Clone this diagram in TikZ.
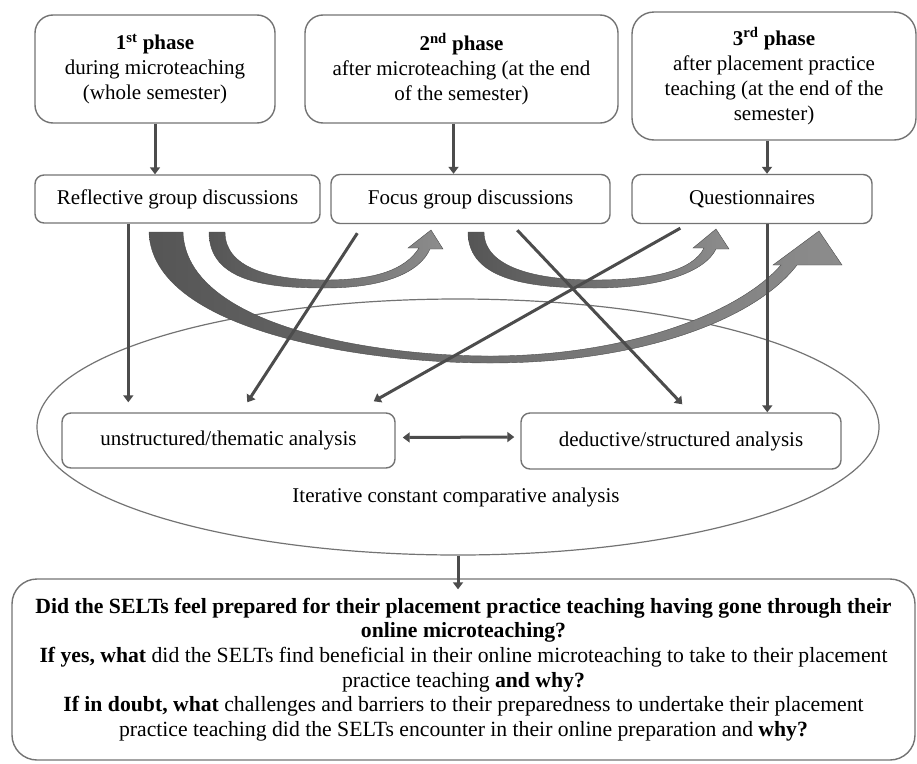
\documentclass[tikz,border=0pt]{standalone}
\usepackage{fontspec}
\setmainfont{Liberation Serif}
\usetikzlibrary{arrows.meta,shapes.geometric,calc}
\begin{document}
\begin{tikzpicture}[x=1pt, y=-1pt,
  every node/.style={font=\fontsize{21}{25}\selectfont},
  box/.style={draw=gray!90!black, line width=1.4pt, rounded corners=18pt, align=center, inner sep=0pt},
  arr/.style={draw=gray!60!black, line width=3pt, -{Triangle[width=10pt,length=7pt]}},
  darr/.style={draw=gray!60!black, line width=3pt, {Triangle[width=10pt,length=7pt]}-{Triangle[width=10pt,length=7pt]}},
  blockarc/.style={draw=gray!60!black, line width=0.4pt, left color=gray!67!black, right color=gray!90}]
  \useasboundingbox (0,0) rectangle (917,763);
  % phases
  \node[box, minimum width=240pt, minimum height=108pt] (p1) at (155,69) {\textbf{1\textsuperscript{st} phase}\\during microteaching\\(whole semester)};
  \node[box, minimum width=313pt, minimum height=108pt] (p2) at (461.5,69) {\textbf{2\textsuperscript{nd} phase}\\after microteaching (at the end\\of the semester)};
  \node[box, minimum width=284pt, minimum height=128pt, rounded corners=22pt] (p3) at (774,76) {\textbf{3\textsuperscript{rd} phase}\\after placement practice\\teaching (at the end of the\\semester)};
  % data sources
  \node[box, rounded corners=9pt, minimum width=285pt, minimum height=48pt] (rg) at (177.5,199) {Reflective group discussions};
  \node[box, rounded corners=9pt, minimum width=279pt, minimum height=49pt] (fg) at (470.5,199) {Focus group discussions};
  \node[box, rounded corners=9pt, minimum width=240pt, minimum height=49pt] (qu) at (752,199) {Questionnaires};
  % analysis
  \node[ellipse, draw=gray!90!black, line width=1.2pt, minimum width=842pt, minimum height=256pt, inner sep=0pt] (it) at (458,427) {};
  \node (itl) at (456,497) {Iterative constant comparative analysis};
  \node[box, rounded corners=9pt, minimum width=333pt, minimum height=55pt] (un) at (228.5,440.5) {unstructured/thematic analysis};
  \node[box, rounded corners=9pt, minimum width=320pt, minimum height=56pt] (de) at (681,441) {deductive/structured analysis};
  % research questions
  \node[box, rounded corners=25pt, minimum width=903pt, minimum height=181pt, font=\fontsize{21.7}{24.6}\selectfont] (rq) at (463.5,669.5)
    {\textbf{Did the SELTs feel prepared for their placement practice teaching having gone through their}\\
     \textbf{online microteaching?}\\
     \textbf{If yes, what} did the SELTs find beneficial in their online microteaching to take to their placement\\
     practice teaching \textbf{and why?}\\
     \textbf{If in doubt, what} challenges and barriers to their preparedness to undertake their placement\\
     practice teaching did the SELTs encounter in their online preparation and \textbf{why?}};
  % curved block arrows
  \path[blockarc] (209,232) .. controls (209,282) and (268,288) .. (325,288) .. controls (385,288) and (420,272) .. (430,249)
    -- (443,249) -- (431,230) -- (408,248) -- (419,248) .. controls (405,270) and (375,280) .. (325,280)
    .. controls (268,280) and (225,267) .. (225,232) -- cycle;
  \path[blockarc] (468,232) .. controls (468,282) and (535,288) .. (595,288) .. controls (660,288) and (705,272) .. (716,249)
    -- (729,249) -- (716,229) -- (693,248) -- (704,248) .. controls (693,270) and (655,280) .. (595,280)
    .. controls (535,280) and (484,267) .. (484,232) -- cycle;
  \path[blockarc] (149,232) .. controls (152,330) and (360,363) .. (490,363) .. controls (640,363) and (755,320) .. (797,265)
    -- (842,265) -- (819,231) -- (773,265) -- (781,265) .. controls (740,312) and (630,356) .. (490,356)
    .. controls (370,356) and (186,325) .. (183,232) -- cycle;
  % connectors
  \draw[arr] (p1.south) -- (p1.south |- rg.north);
  \draw[arr] ($(p2.south)+(-8,0)$) -- ($(p2.south |- fg.north)+(-8,0)$);
  \draw[arr] ($(p3.south)+(-7,0)$) -- ($(p3.south |- qu.north)+(-7,0)$);
  \draw[arr] ($(rg.south west)+(94,0)$) -- ($(un.north west)+(67,-10)$);
  \draw[arr] ($(fg.south west)+(27,9)$) -- ($(un.north west)+(186,-10)$);
  \draw[arr] ($(qu.south west)+(49,4)$) -- ($(un.north east)+(-22,-11)$);
  \draw[arr] ($(fg.south west)+(187,6)$) -- ($(de.north west)+(162,-8)$);
  \draw[arr] ($(qu.south west)+(136,0)$) -- ($(de.north west)+(247,0)$);
  \draw[darr] ($(un.east)+(7,-3)$) -- ($(de.west)+(-6,-4)$);
  \draw[arr] (it.south) -- ($(it.south |- rq.north)+(0,11)$);
\end{tikzpicture}
\end{document}
